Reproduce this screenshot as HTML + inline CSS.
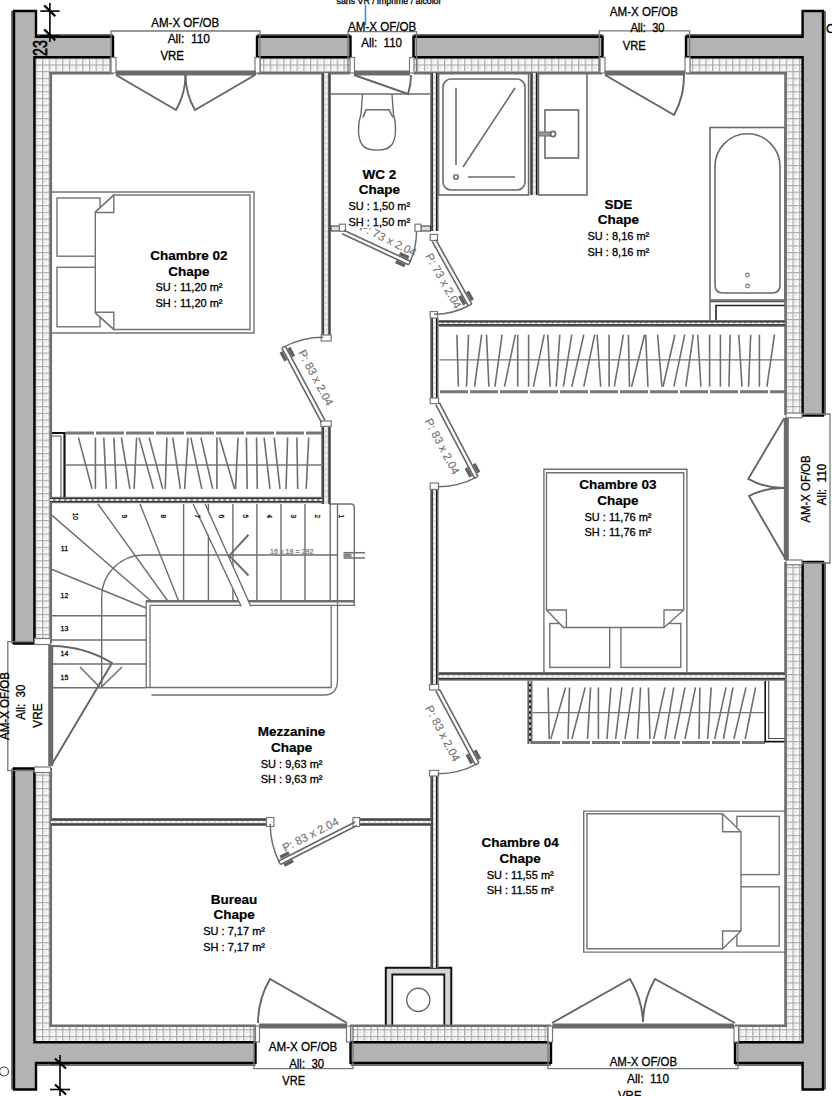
<!DOCTYPE html>
<html><head><meta charset="utf-8"><style>
html,body{margin:0;padding:0;background:#fff;overflow:hidden;}
svg{display:block;}
text{font-family:"Liberation Sans",sans-serif;}
</style></head><body>
<svg width="832" height="1096" viewBox="0 0 832 1096">
<defs>
<pattern id="ins" patternUnits="userSpaceOnUse" width="6.7" height="6.7" x="42" y="64.4">
<rect width="6.7" height="6.7" fill="#fbfbfb"/>
<path d="M3.35,1.5 V5.2 M1.5,3.35 H5.2" stroke="#e2e2e2" stroke-width="0.8"/>
<path d="M0,0.6 H6.7 M0.6,0 V6.7" stroke="#ababab" stroke-width="1.3"/>
</pattern>
</defs>
<rect width="832" height="1096" fill="#fff"/>
<line x1="331.00" y1="94.00" x2="430.00" y2="94.00" stroke="#6a6a6a" stroke-width="1.6" />
<path d="M362.5,94.5 L361,114 C357.5,124 357.5,138 362,144.5 C367,152 387,152 392,144.5 C396.5,138 396.5,124 393.5,114 L392,94.5" stroke="#6a6a6a" stroke-width="1.4" fill="none" />
<path d="M363,117.5 L366,109.7 H389 L393,117.5" stroke="#6a6a6a" stroke-width="1.6" fill="none" />
<rect x="438.60" y="73.00" width="90.00" height="122.00" fill="none" stroke="#6a6a6a" stroke-width="1.6" />
<rect x="443.00" y="79.00" width="82.00" height="111.00" fill="none" stroke="#6a6a6a" stroke-width="1.6" rx="8"/>
<line x1="456.00" y1="88.00" x2="456.00" y2="165.00" stroke="#6a6a6a" stroke-width="1.6" />
<line x1="463.00" y1="167.00" x2="515.00" y2="88.00" stroke="#6a6a6a" stroke-width="1.6" />
<circle cx="456" cy="177" r="2.2" fill="none" stroke="#6a6a6a" stroke-width="1.6"/>
<line x1="468.00" y1="177.00" x2="515.00" y2="177.00" stroke="#6a6a6a" stroke-width="1.6" />
<rect x="538.50" y="73.00" width="48.50" height="122.00" fill="none" stroke="#6a6a6a" stroke-width="1.6" />
<rect x="545.00" y="110.00" width="33.50" height="48.00" fill="none" stroke="#6a6a6a" stroke-width="1.6" />
<rect x="539.00" y="132.00" width="12.00" height="4.00" fill="#999" stroke="#6a6a6a" stroke-width="1" />
<circle cx="553" cy="134" r="2.6" fill="none" stroke="#6a6a6a" stroke-width="1.6"/>
<rect x="710.00" y="127.50" width="75.00" height="172.50" fill="none" stroke="#6a6a6a" stroke-width="1.6" />
<path d="M715,285 V166.3 A32.5,32.5 0 0 1 780,166.3 V285 Q780,293 772,293 H723 Q715,293 715,285 Z" stroke="#6a6a6a" stroke-width="1.6" fill="none" />
<circle cx="747.5" cy="275" r="1.8" fill="none" stroke="#7a7a7a" stroke-width="1.2"/>
<circle cx="747.5" cy="286" r="1.8" fill="none" stroke="#7a7a7a" stroke-width="1.2"/>
<path d="M710,320 V301.5 H785" stroke="#555" stroke-width="1.3" fill="none" />
<path d="M716,320 V305.5 H785" stroke="#222" stroke-width="1.6" fill="none" />
<path d="M385.8,1025 V967.8 H451.3 V1025" stroke="#111" stroke-width="2" fill="#d6d6d6" />
<path d="M392.3,1025 V974.5 H444.3 V1025" stroke="#111" stroke-width="1.8" fill="#fff" />
<circle cx="418.3" cy="999.9" r="11.6" fill="none" stroke="#666" stroke-width="1.4"/>
<path d="M51,192 H254 V333 H51" stroke="#727272" stroke-width="1.4" fill="none" />
<rect x="57.00" y="198.00" width="43.00" height="58.20" fill="none" stroke="#727272" stroke-width="1.4" />
<rect x="57.00" y="267.30" width="43.00" height="59.50" fill="none" stroke="#727272" stroke-width="1.4" />
<path d="M113.8,195 H250 V329.5 H113.8 L95.3,313 V212 Z" stroke="#727272" stroke-width="1.4" fill="#fff" />
<path d="M95.3,212 L113.8,195 V212.5 H95.3" stroke="#727272" stroke-width="1.4" fill="none" />
<path d="M95.3,313 L113.8,329.5 V312.3 H95.3" stroke="#727272" stroke-width="1.4" fill="none" />
<path d="M543.9,672 V469.2 H686.9 V672" stroke="#727272" stroke-width="1.4" fill="none" />
<rect x="549.80" y="623.50" width="59.90" height="43.90" fill="none" stroke="#727272" stroke-width="1.4" />
<rect x="620.90" y="623.50" width="59.90" height="43.90" fill="none" stroke="#727272" stroke-width="1.4" />
<path d="M546.5,610 V472.7 H683.7 V610 L664,627.5 H563.5 Z" stroke="#727272" stroke-width="1.4" fill="#fff" />
<path d="M546.5,610 H566.4 V627.5" stroke="#727272" stroke-width="1.4" fill="none" />
<path d="M683.7,610 H664 V627.5" stroke="#727272" stroke-width="1.4" fill="none" />
<path d="M785,811.1 H583.7 V952.1 H785" stroke="#727272" stroke-width="1.4" fill="none" />
<rect x="736.90" y="816.40" width="42.30" height="58.20" fill="none" stroke="#727272" stroke-width="1.4" />
<rect x="736.90" y="886.80" width="42.30" height="59.20" fill="none" stroke="#727272" stroke-width="1.4" />
<path d="M722.6,813.8 H586.9 V948.7 H722.6 L741,931 V831.7 Z" stroke="#727272" stroke-width="1.4" fill="#fff" />
<path d="M722.6,813.8 V831.7 H741" stroke="#727272" stroke-width="1.4" fill="none" />
<path d="M722.6,948.7 V931 H741" stroke="#727272" stroke-width="1.4" fill="none" />
<line x1="66.00" y1="433.00" x2="322.00" y2="433.00" stroke="#777" stroke-width="3.2" stroke-dasharray="28 2"/>
<path d="M50,433 H64.5 V497" stroke="#111" stroke-width="2.2" fill="none" />
<path d="M51,436 H61 V497" stroke="#555" stroke-width="1.1" fill="none" />
<line x1="78.50" y1="437.60" x2="92.00" y2="488.90" stroke="#6e6e6e" stroke-width="1.6" />
<line x1="95.40" y1="437.60" x2="95.40" y2="488.90" stroke="#6e6e6e" stroke-width="1.6" />
<line x1="103.80" y1="437.60" x2="106.30" y2="488.90" stroke="#6e6e6e" stroke-width="1.6" />
<line x1="113.90" y1="437.60" x2="116.40" y2="488.90" stroke="#6e6e6e" stroke-width="1.6" />
<line x1="121.40" y1="437.60" x2="129.90" y2="488.90" stroke="#6e6e6e" stroke-width="1.6" />
<line x1="136.60" y1="437.60" x2="134.10" y2="488.90" stroke="#6e6e6e" stroke-width="1.6" />
<line x1="139.10" y1="437.60" x2="153.40" y2="488.90" stroke="#6e6e6e" stroke-width="1.6" />
<line x1="149.20" y1="437.60" x2="162.70" y2="488.90" stroke="#6e6e6e" stroke-width="1.6" />
<line x1="166.90" y1="437.60" x2="165.20" y2="488.90" stroke="#6e6e6e" stroke-width="1.6" />
<line x1="172.80" y1="437.60" x2="180.40" y2="488.90" stroke="#6e6e6e" stroke-width="1.6" />
<line x1="188.00" y1="437.60" x2="184.60" y2="488.90" stroke="#6e6e6e" stroke-width="1.6" />
<line x1="190.80" y1="437.60" x2="201.80" y2="488.90" stroke="#6e6e6e" stroke-width="1.6" />
<line x1="200.90" y1="437.60" x2="212.70" y2="488.90" stroke="#6e6e6e" stroke-width="1.6" />
<line x1="216.90" y1="437.60" x2="216.90" y2="488.90" stroke="#6e6e6e" stroke-width="1.6" />
<line x1="219.50" y1="437.60" x2="234.60" y2="488.90" stroke="#6e6e6e" stroke-width="1.6" />
<line x1="238.00" y1="437.60" x2="235.50" y2="488.90" stroke="#6e6e6e" stroke-width="1.6" />
<line x1="246.40" y1="437.60" x2="247.20" y2="488.90" stroke="#6e6e6e" stroke-width="1.6" />
<line x1="256.50" y1="437.60" x2="257.30" y2="488.90" stroke="#6e6e6e" stroke-width="1.6" />
<line x1="264.10" y1="437.60" x2="270.00" y2="488.90" stroke="#6e6e6e" stroke-width="1.6" />
<line x1="274.20" y1="437.60" x2="280.00" y2="488.90" stroke="#6e6e6e" stroke-width="1.6" />
<line x1="287.60" y1="437.60" x2="286.00" y2="488.90" stroke="#6e6e6e" stroke-width="1.6" />
<line x1="296.90" y1="437.60" x2="297.70" y2="488.90" stroke="#6e6e6e" stroke-width="1.6" />
<line x1="308.70" y1="437.60" x2="306.20" y2="488.90" stroke="#6e6e6e" stroke-width="1.6" />
<line x1="66.00" y1="465.00" x2="321.00" y2="465.00" stroke="#747474" stroke-width="1.3" />
<line x1="440.00" y1="391.70" x2="785.00" y2="391.70" stroke="#777" stroke-width="3" stroke-dasharray="28 2"/>
<line x1="456.90" y1="334.70" x2="458.40" y2="386.70" stroke="#6e6e6e" stroke-width="1.6" />
<line x1="468.50" y1="334.70" x2="466.50" y2="386.70" stroke="#6e6e6e" stroke-width="1.6" />
<line x1="481.70" y1="334.70" x2="474.50" y2="386.70" stroke="#6e6e6e" stroke-width="1.6" />
<line x1="486.50" y1="334.70" x2="488.90" y2="386.70" stroke="#6e6e6e" stroke-width="1.6" />
<line x1="502.10" y1="334.70" x2="494.90" y2="386.70" stroke="#6e6e6e" stroke-width="1.6" />
<line x1="515.30" y1="334.70" x2="504.50" y2="386.70" stroke="#6e6e6e" stroke-width="1.6" />
<line x1="517.70" y1="334.70" x2="517.70" y2="386.70" stroke="#6e6e6e" stroke-width="1.6" />
<line x1="528.60" y1="334.70" x2="528.60" y2="386.70" stroke="#6e6e6e" stroke-width="1.6" />
<line x1="544.20" y1="334.70" x2="533.40" y2="386.70" stroke="#6e6e6e" stroke-width="1.6" />
<line x1="547.80" y1="334.70" x2="550.20" y2="386.70" stroke="#6e6e6e" stroke-width="1.6" />
<line x1="559.80" y1="334.70" x2="556.20" y2="386.70" stroke="#6e6e6e" stroke-width="1.6" />
<line x1="571.80" y1="334.70" x2="563.40" y2="386.70" stroke="#6e6e6e" stroke-width="1.6" />
<line x1="583.80" y1="334.70" x2="571.80" y2="386.70" stroke="#6e6e6e" stroke-width="1.6" />
<line x1="594.70" y1="334.70" x2="583.80" y2="386.70" stroke="#6e6e6e" stroke-width="1.6" />
<line x1="597.10" y1="334.70" x2="600.70" y2="386.70" stroke="#6e6e6e" stroke-width="1.6" />
<line x1="609.10" y1="334.70" x2="609.10" y2="386.70" stroke="#6e6e6e" stroke-width="1.6" />
<line x1="623.40" y1="334.70" x2="614.30" y2="386.70" stroke="#6e6e6e" stroke-width="1.6" />
<line x1="628.40" y1="334.70" x2="629.50" y2="386.70" stroke="#6e6e6e" stroke-width="1.6" />
<line x1="644.60" y1="334.70" x2="631.60" y2="386.70" stroke="#6e6e6e" stroke-width="1.6" />
<line x1="645.70" y1="334.70" x2="647.90" y2="386.70" stroke="#6e6e6e" stroke-width="1.6" />
<line x1="657.60" y1="334.70" x2="661.90" y2="386.70" stroke="#6e6e6e" stroke-width="1.6" />
<line x1="674.90" y1="334.70" x2="663.00" y2="386.70" stroke="#6e6e6e" stroke-width="1.6" />
<line x1="684.70" y1="334.70" x2="673.90" y2="386.70" stroke="#6e6e6e" stroke-width="1.6" />
<line x1="693.30" y1="334.70" x2="685.80" y2="386.70" stroke="#6e6e6e" stroke-width="1.6" />
<line x1="697.70" y1="334.70" x2="700.90" y2="386.70" stroke="#6e6e6e" stroke-width="1.6" />
<line x1="709.60" y1="334.70" x2="709.60" y2="386.70" stroke="#6e6e6e" stroke-width="1.6" />
<line x1="720.40" y1="334.70" x2="720.40" y2="386.70" stroke="#6e6e6e" stroke-width="1.6" />
<line x1="730.10" y1="334.70" x2="729.00" y2="386.70" stroke="#6e6e6e" stroke-width="1.6" />
<line x1="738.80" y1="334.70" x2="742.00" y2="386.70" stroke="#6e6e6e" stroke-width="1.6" />
<line x1="750.70" y1="334.70" x2="748.50" y2="386.70" stroke="#6e6e6e" stroke-width="1.6" />
<line x1="759.40" y1="334.70" x2="759.40" y2="386.70" stroke="#6e6e6e" stroke-width="1.6" />
<line x1="774.50" y1="334.70" x2="766.90" y2="386.70" stroke="#6e6e6e" stroke-width="1.6" />
<line x1="439.60" y1="359.80" x2="785.00" y2="359.80" stroke="#747474" stroke-width="1.3" />
<rect x="527.30" y="680.70" width="5.20" height="63.30" fill="#707070" />
<rect x="528.80" y="680.70" width="2.20" height="63.30" fill="#1a1a1a" />
<rect x="529.90" y="680.70" width="0.00" height="63.30" fill="#d8d8d8" />
<line x1="529.90" y1="680.70" x2="529.90" y2="744.00" stroke="#fff" stroke-width="1.4" stroke-dasharray="3 2.5"/>
<line x1="532.00" y1="742.50" x2="765.00" y2="742.50" stroke="#777" stroke-width="3" stroke-dasharray="28 2"/>
<line x1="548.10" y1="687.40" x2="549.20" y2="739.00" stroke="#6e6e6e" stroke-width="1.6" />
<line x1="565.60" y1="687.40" x2="550.80" y2="739.00" stroke="#6e6e6e" stroke-width="1.6" />
<line x1="569.50" y1="687.40" x2="568.00" y2="739.00" stroke="#6e6e6e" stroke-width="1.6" />
<line x1="585.20" y1="687.40" x2="571.90" y2="739.00" stroke="#6e6e6e" stroke-width="1.6" />
<line x1="590.60" y1="687.40" x2="587.50" y2="739.00" stroke="#6e6e6e" stroke-width="1.6" />
<line x1="598.40" y1="687.40" x2="598.40" y2="739.00" stroke="#6e6e6e" stroke-width="1.6" />
<line x1="610.90" y1="687.40" x2="607.00" y2="739.00" stroke="#6e6e6e" stroke-width="1.6" />
<line x1="621.90" y1="687.40" x2="615.60" y2="739.00" stroke="#6e6e6e" stroke-width="1.6" />
<line x1="632.80" y1="687.40" x2="625.00" y2="739.00" stroke="#6e6e6e" stroke-width="1.6" />
<line x1="640.60" y1="687.40" x2="637.50" y2="739.00" stroke="#6e6e6e" stroke-width="1.6" />
<line x1="648.40" y1="687.40" x2="650.00" y2="739.00" stroke="#6e6e6e" stroke-width="1.6" />
<line x1="665.00" y1="687.40" x2="653.70" y2="739.00" stroke="#6e6e6e" stroke-width="1.6" />
<line x1="673.70" y1="687.40" x2="665.00" y2="739.00" stroke="#6e6e6e" stroke-width="1.6" />
<line x1="685.00" y1="687.40" x2="674.60" y2="739.00" stroke="#6e6e6e" stroke-width="1.6" />
<line x1="695.50" y1="687.40" x2="685.00" y2="739.00" stroke="#6e6e6e" stroke-width="1.6" />
<line x1="699.90" y1="687.40" x2="699.00" y2="739.00" stroke="#6e6e6e" stroke-width="1.6" />
<line x1="711.20" y1="687.40" x2="707.70" y2="739.00" stroke="#6e6e6e" stroke-width="1.6" />
<line x1="726.00" y1="687.40" x2="714.70" y2="739.00" stroke="#6e6e6e" stroke-width="1.6" />
<line x1="733.00" y1="687.40" x2="723.40" y2="739.00" stroke="#6e6e6e" stroke-width="1.6" />
<line x1="746.00" y1="687.40" x2="733.90" y2="739.00" stroke="#6e6e6e" stroke-width="1.6" />
<line x1="755.60" y1="687.40" x2="745.20" y2="739.00" stroke="#6e6e6e" stroke-width="1.6" />
<line x1="533.00" y1="712.60" x2="764.30" y2="712.60" stroke="#747474" stroke-width="1.3" />
<path d="M765.2,680.7 V741.6 H785" stroke="#111" stroke-width="1.6" fill="none" />
<path d="M768.7,680.7 V738.5 H785" stroke="#444" stroke-width="1.1" fill="none" />
<path d="M329,504 H351 Q354.3,504 354.3,507.5 V606" stroke="#6e6e6e" stroke-width="1.4" fill="none" />
<line x1="183.60" y1="504.00" x2="183.60" y2="601.00" stroke="#6e6e6e" stroke-width="1.4" />
<line x1="208.40" y1="504.00" x2="208.40" y2="601.00" stroke="#6e6e6e" stroke-width="1.4" />
<line x1="232.90" y1="504.00" x2="232.90" y2="601.00" stroke="#6e6e6e" stroke-width="1.4" />
<line x1="256.90" y1="504.00" x2="256.90" y2="601.00" stroke="#6e6e6e" stroke-width="1.4" />
<line x1="281.00" y1="504.00" x2="281.00" y2="601.00" stroke="#6e6e6e" stroke-width="1.4" />
<line x1="305.00" y1="504.00" x2="305.00" y2="601.00" stroke="#6e6e6e" stroke-width="1.4" />
<line x1="330.20" y1="504.00" x2="330.20" y2="601.00" stroke="#6e6e6e" stroke-width="1.4" />
<line x1="337.50" y1="504.00" x2="337.50" y2="601.00" stroke="#6e6e6e" stroke-width="1.4" />
<line x1="52.00" y1="515.40" x2="151.00" y2="601.00" stroke="#6e6e6e" stroke-width="1.4" />
<line x1="52.00" y1="569.50" x2="146.00" y2="608.00" stroke="#6e6e6e" stroke-width="1.4" />
<line x1="98.00" y1="504.00" x2="167.80" y2="601.00" stroke="#6e6e6e" stroke-width="1.4" />
<line x1="140.00" y1="504.00" x2="178.60" y2="601.00" stroke="#6e6e6e" stroke-width="1.4" />
<line x1="146.00" y1="601.20" x2="354.30" y2="601.20" stroke="#6e6e6e" stroke-width="2.4" />
<line x1="150.00" y1="605.30" x2="354.30" y2="605.30" stroke="#6e6e6e" stroke-width="1.3" />
<polygon points="194.5,503.6 204.3,503.6 251.2,608 241.4,608" fill="#fff"/>
<line x1="193.20" y1="504.00" x2="241.30" y2="606.50" stroke="#6e6e6e" stroke-width="1.4" />
<line x1="205.20" y1="504.00" x2="250.90" y2="606.50" stroke="#6e6e6e" stroke-width="1.4" />
<path d="M101.7,688 V597 A42,42 0 0 1 143.7,555 H337.5" stroke="#6e6e6e" stroke-width="1.4" fill="none" />
<line x1="229.30" y1="555.60" x2="248.50" y2="534.70" stroke="#6e6e6e" stroke-width="2" />
<line x1="229.30" y1="555.60" x2="248.50" y2="575.50" stroke="#6e6e6e" stroke-width="2" />
<text x="291.80" y="554.00" font-size="8" text-anchor="middle" fill="#888" stroke="#888" stroke-width="0.3" textLength="43.4" lengthAdjust="spacingAndGlyphs" >16 x 18 = 292</text>
<line x1="343.50" y1="552.70" x2="365.00" y2="552.70" stroke="#6e6e6e" stroke-width="1.5" />
<line x1="343.50" y1="558.00" x2="365.00" y2="558.00" stroke="#6e6e6e" stroke-width="1.5" />
<rect x="343.50" y="553.50" width="8.00" height="4.00" fill="#888" />
<line x1="146.20" y1="601.00" x2="146.20" y2="688.00" stroke="#6e6e6e" stroke-width="1.3" />
<line x1="150.00" y1="605.00" x2="150.00" y2="688.00" stroke="#6e6e6e" stroke-width="1.3" />
<line x1="146.00" y1="687.50" x2="331.20" y2="687.50" stroke="#6e6e6e" stroke-width="1.3" />
<line x1="331.20" y1="605.30" x2="331.20" y2="687.50" stroke="#6e6e6e" stroke-width="1.3" />
<path d="M337.5,601 V680 Q337.5,695 324,695 H151.5" stroke="#6e6e6e" stroke-width="1.3" fill="none" />
<line x1="52.00" y1="615.80" x2="146.00" y2="615.80" stroke="#6e6e6e" stroke-width="1.4" />
<line x1="52.00" y1="640.00" x2="146.00" y2="640.00" stroke="#6e6e6e" stroke-width="1.4" />
<line x1="52.00" y1="664.00" x2="146.00" y2="664.00" stroke="#6e6e6e" stroke-width="1.4" />
<line x1="52.00" y1="687.80" x2="146.00" y2="687.80" stroke="#6e6e6e" stroke-width="1.4" />
<text x="64.50" y="551.00" font-size="7" text-anchor="middle" fill="#111" stroke="#111" stroke-width="0.3" >11</text>
<text x="64.50" y="598.00" font-size="7" text-anchor="middle" fill="#111" stroke="#111" stroke-width="0.3" >12</text>
<text x="64.50" y="631.00" font-size="7" text-anchor="middle" fill="#111" stroke="#111" stroke-width="0.3" >13</text>
<text x="64.50" y="655.50" font-size="7" text-anchor="middle" fill="#111" stroke="#111" stroke-width="0.3" >14</text>
<text x="64.50" y="679.50" font-size="7" text-anchor="middle" fill="#111" stroke="#111" stroke-width="0.3" >15</text>
<text x="75.00" y="516.30" font-size="6.5" text-anchor="middle" fill="#111" stroke="#111" stroke-width="0.3" transform="rotate(90 75 516.3)" dominant-baseline="middle">10</text>
<text x="123.50" y="516.30" font-size="6.5" text-anchor="middle" fill="#111" stroke="#111" stroke-width="0.3" transform="rotate(90 123.5 516.3)" dominant-baseline="middle">9</text>
<text x="163.00" y="516.30" font-size="6.5" text-anchor="middle" fill="#111" stroke="#111" stroke-width="0.3" transform="rotate(90 163 516.3)" dominant-baseline="middle">8</text>
<text x="196.60" y="516.30" font-size="6.5" text-anchor="middle" fill="#111" stroke="#111" stroke-width="0.3" transform="rotate(90 196.6 516.3)" dominant-baseline="middle">7</text>
<text x="220.90" y="516.30" font-size="6.5" text-anchor="middle" fill="#111" stroke="#111" stroke-width="0.3" transform="rotate(90 220.9 516.3)" dominant-baseline="middle">6</text>
<text x="244.60" y="516.30" font-size="6.5" text-anchor="middle" fill="#111" stroke="#111" stroke-width="0.3" transform="rotate(90 244.6 516.3)" dominant-baseline="middle">5</text>
<text x="268.50" y="516.30" font-size="6.5" text-anchor="middle" fill="#111" stroke="#111" stroke-width="0.3" transform="rotate(90 268.5 516.3)" dominant-baseline="middle">4</text>
<text x="292.50" y="516.30" font-size="6.5" text-anchor="middle" fill="#111" stroke="#111" stroke-width="0.3" transform="rotate(90 292.5 516.3)" dominant-baseline="middle">3</text>
<text x="317.00" y="516.30" font-size="6.5" text-anchor="middle" fill="#111" stroke="#111" stroke-width="0.3" transform="rotate(90 317 516.3)" dominant-baseline="middle">2</text>
<text x="340.60" y="516.30" font-size="6.5" text-anchor="middle" fill="#111" stroke="#111" stroke-width="0.3" transform="rotate(90 340.6 516.3)" dominant-baseline="middle">1</text>
<line x1="80.00" y1="667.00" x2="100.50" y2="688.00" stroke="#6e6e6e" stroke-width="1.5" />
<line x1="122.00" y1="667.00" x2="100.50" y2="688.00" stroke="#6e6e6e" stroke-width="1.5" />
<rect x="35.00" y="57.50" width="78.00" height="15.00" fill="url(#ins)" />
<rect x="257.00" y="57.50" width="93.50" height="15.00" fill="url(#ins)" />
<rect x="414.00" y="57.50" width="188.00" height="15.00" fill="url(#ins)" />
<rect x="686.00" y="57.50" width="116.00" height="15.00" fill="url(#ins)" />
<rect x="35.00" y="57.50" width="15.00" height="586.00" fill="url(#ins)" />
<rect x="35.00" y="768.00" width="15.00" height="274.00" fill="url(#ins)" />
<rect x="786.00" y="57.50" width="16.00" height="358.00" fill="url(#ins)" />
<rect x="786.00" y="562.00" width="16.00" height="480.00" fill="url(#ins)" />
<rect x="35.00" y="1026.00" width="221.00" height="16.00" fill="url(#ins)" />
<rect x="350.00" y="1026.00" width="201.00" height="16.00" fill="url(#ins)" />
<rect x="735.00" y="1026.00" width="67.00" height="16.00" fill="url(#ins)" />
<line x1="50.80" y1="72.00" x2="50.80" y2="643.00" stroke="#6e6e6e" stroke-width="2.6" />
<line x1="50.80" y1="768.00" x2="50.80" y2="1027.00" stroke="#6e6e6e" stroke-width="2.6" />
<line x1="49.50" y1="73.20" x2="113.00" y2="73.20" stroke="#6e6e6e" stroke-width="2.6" />
<line x1="257.00" y1="73.20" x2="350.00" y2="73.20" stroke="#6e6e6e" stroke-width="2.6" />
<line x1="414.00" y1="73.20" x2="602.00" y2="73.20" stroke="#6e6e6e" stroke-width="2.6" />
<line x1="686.00" y1="73.20" x2="787.00" y2="73.20" stroke="#6e6e6e" stroke-width="2.6" />
<line x1="785.50" y1="72.00" x2="785.50" y2="415.00" stroke="#6e6e6e" stroke-width="2.6" />
<line x1="785.50" y1="562.00" x2="785.50" y2="1027.00" stroke="#6e6e6e" stroke-width="2.6" />
<line x1="49.50" y1="1025.80" x2="256.00" y2="1025.80" stroke="#6e6e6e" stroke-width="2.6" />
<line x1="350.00" y1="1025.80" x2="551.00" y2="1025.80" stroke="#6e6e6e" stroke-width="2.6" />
<line x1="735.00" y1="1025.80" x2="787.00" y2="1025.80" stroke="#6e6e6e" stroke-width="2.6" />
<line x1="12.00" y1="11.00" x2="12.00" y2="643.50" stroke="#707070" stroke-width="2" />
<line x1="12.00" y1="768.50" x2="12.00" y2="1089.50" stroke="#707070" stroke-width="2" />
<line x1="36.00" y1="35.00" x2="113.00" y2="35.00" stroke="#707070" stroke-width="2" />
<line x1="257.00" y1="35.00" x2="350.50" y2="35.00" stroke="#707070" stroke-width="2" />
<line x1="413.50" y1="35.00" x2="602.50" y2="35.00" stroke="#707070" stroke-width="2" />
<line x1="686.00" y1="35.00" x2="802.60" y2="35.00" stroke="#707070" stroke-width="2" />
<line x1="825.00" y1="11.00" x2="825.00" y2="415.50" stroke="#707070" stroke-width="2" />
<line x1="825.00" y1="562.00" x2="825.00" y2="1089.50" stroke="#707070" stroke-width="2" />
<line x1="36.00" y1="1064.90" x2="255.50" y2="1064.90" stroke="#707070" stroke-width="2" />
<line x1="350.50" y1="1064.90" x2="551.00" y2="1064.90" stroke="#707070" stroke-width="2" />
<line x1="735.00" y1="1064.90" x2="802.60" y2="1064.90" stroke="#707070" stroke-width="2" />
<polygon points="14,11 36,11 36,36.8 113,36.8 113,57.25 34.4,57.25 34.4,643.5 14,643.5" fill="#b3b3b3" stroke="#000" stroke-width="2.4" stroke-linejoin="miter"/>
<polygon points="257,36.8 350.5,36.8 350.5,57.25 257,57.25" fill="#b3b3b3" stroke="#000" stroke-width="2.4" stroke-linejoin="miter"/>
<polygon points="413.5,36.8 602.5,36.8 602.5,57.25 413.5,57.25" fill="#b3b3b3" stroke="#000" stroke-width="2.4" stroke-linejoin="miter"/>
<polygon points="686,36.8 802.6,36.8 802.6,11 823,11 823,415.5 802.6,415.5 802.6,57.25 686,57.25" fill="#b3b3b3" stroke="#000" stroke-width="2.4" stroke-linejoin="miter"/>
<polygon points="802.6,562 823,562 823,1089.5 802.6,1089.5 802.6,1062.9 735,1062.9 735,1042.2 802.6,1042.2" fill="#b3b3b3" stroke="#000" stroke-width="2.4" stroke-linejoin="miter"/>
<polygon points="14,768.5 34.4,768.5 34.4,1042.2 255.5,1042.2 255.5,1062.9 36,1062.9 36,1089.5 14,1089.5" fill="#b3b3b3" stroke="#000" stroke-width="2.4" stroke-linejoin="miter"/>
<polygon points="350.5,1042.2 551,1042.2 551,1062.9 350.5,1062.9" fill="#b3b3b3" stroke="#000" stroke-width="2.4" stroke-linejoin="miter"/>
<path d="M111,73 V31 H260 V73" stroke="#777" stroke-width="1.3" fill="none" />
<rect x="111.00" y="57.50" width="5.00" height="15.50" fill="#fff" stroke="#777" stroke-width="1.2" />
<rect x="255.00" y="57.50" width="5.00" height="15.50" fill="#fff" stroke="#777" stroke-width="1.2" />
<line x1="116.00" y1="73.00" x2="256.00" y2="73.00" stroke="#6a6a6a" stroke-width="5" />
<path d="M116,75 L176,110 A70,70 0 0 0 185.5,75" stroke="#656565" stroke-width="1.9" fill="none" />
<path d="M255,75 L195,110 A70,70 0 0 1 185.5,75" stroke="#656565" stroke-width="1.9" fill="none" />
<text x="185.30" y="26.50" font-size="12.5" text-anchor="middle" fill="#000" stroke="#000" stroke-width="0.3" textLength="68" lengthAdjust="spacingAndGlyphs" >AM-X OF/OB</text>
<text x="188.80" y="42.70" font-size="12.5" text-anchor="middle" fill="#000" stroke="#000" stroke-width="0.3" textLength="42.3" lengthAdjust="spacingAndGlyphs" >All:  110</text>
<text x="160.40" y="59.60" font-size="12.5" text-anchor="start" fill="#000" stroke="#000" stroke-width="0.3" textLength="23.6" lengthAdjust="spacingAndGlyphs" >VRE</text>
<path d="M348,73 V31.7 H416.5 V73" stroke="#777" stroke-width="1.3" fill="none" />
<rect x="350.00" y="57.50" width="4.50" height="15.50" fill="#fff" stroke="#777" stroke-width="1.2" />
<rect x="409.50" y="57.50" width="4.50" height="15.50" fill="#fff" stroke="#777" stroke-width="1.2" />
<line x1="354.00" y1="73.00" x2="410.00" y2="73.00" stroke="#6a6a6a" stroke-width="5" />
<path d="M354,75 L408,94 A60,60 0 0 0 411,75" stroke="#656565" stroke-width="1.9" fill="none" />
<line x1="365.50" y1="5.00" x2="365.50" y2="25.00" stroke="#3b8ee0" stroke-width="1.6" />
<text x="382.20" y="30.80" font-size="12.5" text-anchor="middle" fill="#000" stroke="#000" stroke-width="0.3" textLength="68.3" lengthAdjust="spacingAndGlyphs" >AM-X OF/OB</text>
<text x="381.60" y="47.10" font-size="12.5" text-anchor="middle" fill="#000" stroke="#000" stroke-width="0.3" textLength="40.8" lengthAdjust="spacingAndGlyphs" >All:  110</text>
<text x="389.00" y="3.60" font-size="8.5" text-anchor="middle" fill="#000" stroke="#000" stroke-width="0.3" textLength="104.8" lengthAdjust="spacingAndGlyphs" >sans VR / imprimé / alcolor</text>
<path d="M599.2,73 V30.8 H689.6 V73" stroke="#777" stroke-width="1.3" fill="none" />
<rect x="600.00" y="57.50" width="5.00" height="15.50" fill="#fff" stroke="#777" stroke-width="1.2" />
<rect x="685.00" y="57.50" width="5.00" height="15.50" fill="#fff" stroke="#777" stroke-width="1.2" />
<line x1="605.00" y1="73.00" x2="685.00" y2="73.00" stroke="#6a6a6a" stroke-width="5" />
<path d="M605,75 L674,115 A80,80 0 0 0 684,75" stroke="#656565" stroke-width="1.9" fill="none" />
<text x="643.90" y="15.80" font-size="12.5" text-anchor="middle" fill="#000" stroke="#000" stroke-width="0.3" textLength="68.2" lengthAdjust="spacingAndGlyphs" >AM-X OF/OB</text>
<text x="647.50" y="32.30" font-size="12.5" text-anchor="middle" fill="#000" stroke="#000" stroke-width="0.3" textLength="34.2" lengthAdjust="spacingAndGlyphs" >All:  30</text>
<text x="622.70" y="49.60" font-size="12.5" text-anchor="start" fill="#000" stroke="#000" stroke-width="0.3" textLength="23.1" lengthAdjust="spacingAndGlyphs" >VRE</text>
<text x="826.00" y="33.00" font-size="12.5" text-anchor="start" fill="#000" stroke="#000" stroke-width="0.3" >C</text>
<path d="M786,414 H830 V563 H786" stroke="#777" stroke-width="1.3" fill="none" />
<rect x="786.00" y="413.00" width="16.00" height="4.80" fill="#fff" stroke="#777" stroke-width="1.2" />
<rect x="786.00" y="560.00" width="16.00" height="4.80" fill="#fff" stroke="#777" stroke-width="1.2" />
<line x1="786.30" y1="418.00" x2="786.30" y2="560.00" stroke="#6a6a6a" stroke-width="5" />
<path d="M784.4,418 L748.3,478.8 A70,70 0 0 0 784,488" stroke="#656565" stroke-width="1.9" fill="none" />
<path d="M784.4,557 L749,496 A70,70 0 0 1 784,488" stroke="#656565" stroke-width="1.9" fill="none" />
<text x="809.60" y="489.00" font-size="12.5" text-anchor="middle" fill="#000" stroke="#000" stroke-width="0.3" textLength="67" lengthAdjust="spacingAndGlyphs" transform="rotate(-90 809.6 489)">AM-X OF/OB</text>
<text x="826.40" y="484.50" font-size="12.5" text-anchor="middle" fill="#000" stroke="#000" stroke-width="0.3" textLength="41.5" lengthAdjust="spacingAndGlyphs" transform="rotate(-90 826.4 484.5)">All:  110</text>
<path d="M50,641.7 H7.8 V770.6 H50" stroke="#777" stroke-width="1.3" fill="none" />
<rect x="34.50" y="638.50" width="16.00" height="6.00" fill="#fff" stroke="#777" stroke-width="1.2" />
<rect x="34.50" y="767.00" width="16.00" height="5.50" fill="#fff" stroke="#777" stroke-width="1.2" />
<line x1="50.70" y1="645.00" x2="50.70" y2="766.00" stroke="#6a6a6a" stroke-width="5" />
<path d="M52,764 L112,663 A118,118 0 0 0 52,646" stroke="#656565" stroke-width="1.9" fill="none" />
<text x="8.80" y="706.00" font-size="12.5" text-anchor="middle" fill="#000" stroke="#000" stroke-width="0.3" textLength="68" lengthAdjust="spacingAndGlyphs" transform="rotate(-90 8.8 706)">AM-X OF/OB</text>
<text x="25.20" y="702.20" font-size="12.5" text-anchor="middle" fill="#000" stroke="#000" stroke-width="0.3" textLength="35.1" lengthAdjust="spacingAndGlyphs" transform="rotate(-90 25.2 702.2)">All:  30</text>
<text x="42.30" y="715.50" font-size="12.5" text-anchor="middle" fill="#000" stroke="#000" stroke-width="0.3" textLength="24.3" lengthAdjust="spacingAndGlyphs" transform="rotate(-90 42.3 715.5)">VRE</text>
<path d="M254,1026 V1068.7 H353 V1026" stroke="#777" stroke-width="1.3" fill="none" />
<rect x="255.50" y="1026.00" width="4.00" height="16.00" fill="#fff" stroke="#777" stroke-width="1.2" />
<rect x="346.50" y="1026.00" width="4.00" height="16.00" fill="#fff" stroke="#777" stroke-width="1.2" />
<line x1="259.00" y1="1026.00" x2="347.00" y2="1026.00" stroke="#6a6a6a" stroke-width="5" />
<path d="M347,1023 L270,979 A88,88 0 0 0 258,1023" stroke="#656565" stroke-width="1.9" fill="none" />
<text x="303.00" y="1051.30" font-size="12.5" text-anchor="middle" fill="#000" stroke="#000" stroke-width="0.3" textLength="68.5" lengthAdjust="spacingAndGlyphs" >AM-X OF/OB</text>
<text x="306.70" y="1067.80" font-size="12.5" text-anchor="middle" fill="#000" stroke="#000" stroke-width="0.3" textLength="35" lengthAdjust="spacingAndGlyphs" >All:  30</text>
<text x="282.30" y="1084.50" font-size="12.5" text-anchor="start" fill="#000" stroke="#000" stroke-width="0.3" textLength="22.7" lengthAdjust="spacingAndGlyphs" >VRE</text>
<path d="M548,1026 V1068.7 H738 V1026" stroke="#777" stroke-width="1.3" fill="none" />
<rect x="548.00" y="1026.00" width="4.50" height="16.00" fill="#fff" stroke="#777" stroke-width="1.2" />
<rect x="734.00" y="1026.00" width="4.50" height="16.00" fill="#fff" stroke="#777" stroke-width="1.2" />
<line x1="552.50" y1="1026.00" x2="734.00" y2="1026.00" stroke="#6a6a6a" stroke-width="5" />
<path d="M552,1023 L630,979 A90,90 0 0 1 643,1022" stroke="#656565" stroke-width="1.9" fill="none" />
<path d="M735,1023 L655,979 A90,90 0 0 0 643,1022" stroke="#656565" stroke-width="1.9" fill="none" />
<text x="643.40" y="1065.80" font-size="12.5" text-anchor="middle" fill="#000" stroke="#000" stroke-width="0.3" textLength="67.3" lengthAdjust="spacingAndGlyphs" >AM-X OF/OB</text>
<text x="648.00" y="1083.20" font-size="12.5" text-anchor="middle" fill="#000" stroke="#000" stroke-width="0.3" textLength="42" lengthAdjust="spacingAndGlyphs" >All:  110</text>
<text x="618.00" y="1100.00" font-size="12.5" text-anchor="start" fill="#000" stroke="#000" stroke-width="0.3" textLength="23.5" lengthAdjust="spacingAndGlyphs" >VRE</text>
<rect x="321.20" y="73.00" width="9.80" height="262.00" fill="#707070" />
<rect x="322.70" y="73.00" width="6.80" height="262.00" fill="#1a1a1a" />
<rect x="323.80" y="73.00" width="4.60" height="262.00" fill="#d8d8d8" />
<line x1="326.10" y1="73.00" x2="326.10" y2="335.00" stroke="#fff" stroke-width="1.4" stroke-dasharray="3 2.5"/>
<rect x="321.20" y="426.40" width="9.80" height="77.60" fill="#707070" />
<rect x="322.70" y="426.40" width="6.80" height="77.60" fill="#1a1a1a" />
<rect x="323.80" y="426.40" width="4.60" height="77.60" fill="#d8d8d8" />
<line x1="326.10" y1="426.40" x2="326.10" y2="504.00" stroke="#fff" stroke-width="1.4" stroke-dasharray="3 2.5"/>
<rect x="321.20" y="335.00" width="10.00" height="6.00" fill="#fff" stroke="#777" stroke-width="1.2" />
<rect x="320.80" y="421.00" width="10.40" height="5.40" fill="#fff" stroke="#777" stroke-width="1.2" />
<rect x="430.20" y="73.00" width="8.40" height="158.00" fill="#707070" />
<rect x="431.70" y="73.00" width="5.40" height="158.00" fill="#1a1a1a" />
<rect x="432.80" y="73.00" width="3.20" height="158.00" fill="#d8d8d8" />
<line x1="434.40" y1="73.00" x2="434.40" y2="231.00" stroke="#fff" stroke-width="1.4" stroke-dasharray="3 2.5"/>
<rect x="430.20" y="318.00" width="8.40" height="80.00" fill="#707070" />
<rect x="431.70" y="318.00" width="5.40" height="80.00" fill="#1a1a1a" />
<rect x="432.80" y="318.00" width="3.20" height="80.00" fill="#d8d8d8" />
<line x1="434.40" y1="318.00" x2="434.40" y2="398.00" stroke="#fff" stroke-width="1.4" stroke-dasharray="3 2.5"/>
<rect x="430.20" y="489.40" width="8.40" height="195.10" fill="#707070" />
<rect x="431.70" y="489.40" width="5.40" height="195.10" fill="#1a1a1a" />
<rect x="432.80" y="489.40" width="3.20" height="195.10" fill="#d8d8d8" />
<line x1="434.40" y1="489.40" x2="434.40" y2="684.50" stroke="#fff" stroke-width="1.4" stroke-dasharray="3 2.5"/>
<rect x="430.20" y="776.00" width="8.40" height="192.00" fill="#707070" />
<rect x="431.70" y="776.00" width="5.40" height="192.00" fill="#1a1a1a" />
<rect x="432.80" y="776.00" width="3.20" height="192.00" fill="#d8d8d8" />
<line x1="434.40" y1="776.00" x2="434.40" y2="968.00" stroke="#fff" stroke-width="1.4" stroke-dasharray="3 2.5"/>
<rect x="430.20" y="234.40" width="7.30" height="6.10" fill="#fff" stroke="#777" stroke-width="1.2" />
<rect x="430.20" y="311.50" width="7.30" height="6.50" fill="#fff" stroke="#777" stroke-width="1.2" />
<rect x="430.20" y="398.00" width="8.40" height="5.60" fill="#fff" stroke="#777" stroke-width="1.2" />
<rect x="430.20" y="483.00" width="8.40" height="6.40" fill="#fff" stroke="#777" stroke-width="1.2" />
<rect x="429.50" y="684.50" width="9.10" height="5.50" fill="#fff" stroke="#777" stroke-width="1.2" />
<rect x="429.50" y="770.40" width="9.10" height="5.60" fill="#fff" stroke="#777" stroke-width="1.2" />
<rect x="530.00" y="73.00" width="8.50" height="122.00" fill="#707070" />
<rect x="531.50" y="73.00" width="5.50" height="122.00" fill="#1a1a1a" />
<rect x="532.60" y="73.00" width="3.30" height="122.00" fill="#d8d8d8" />
<line x1="534.25" y1="73.00" x2="534.25" y2="195.00" stroke="#fff" stroke-width="1.4" stroke-dasharray="3 2.5"/>
<rect x="438.60" y="320.00" width="346.40" height="6.80" fill="#707070" />
<rect x="438.60" y="321.50" width="346.40" height="3.80" fill="#1a1a1a" />
<rect x="438.60" y="322.60" width="346.40" height="1.60" fill="#d8d8d8" />
<line x1="438.60" y1="323.40" x2="785.00" y2="323.40" stroke="#fff" stroke-width="1.4" stroke-dasharray="3 2.5"/>
<rect x="438.60" y="672.00" width="346.40" height="8.70" fill="#707070" />
<rect x="438.60" y="673.50" width="346.40" height="5.70" fill="#1a1a1a" />
<rect x="438.60" y="674.60" width="346.40" height="3.50" fill="#d8d8d8" />
<line x1="438.60" y1="676.35" x2="785.00" y2="676.35" stroke="#fff" stroke-width="1.4" stroke-dasharray="3 2.5"/>
<rect x="51.00" y="818.00" width="215.50" height="8.00" fill="#707070" />
<rect x="51.00" y="819.50" width="215.50" height="5.00" fill="#1a1a1a" />
<rect x="51.00" y="820.60" width="215.50" height="2.80" fill="#d8d8d8" />
<line x1="51.00" y1="822.00" x2="266.50" y2="822.00" stroke="#fff" stroke-width="1.4" stroke-dasharray="3 2.5"/>
<rect x="359.50" y="818.00" width="71.50" height="8.00" fill="#707070" />
<rect x="359.50" y="819.50" width="71.50" height="5.00" fill="#1a1a1a" />
<rect x="359.50" y="820.60" width="71.50" height="2.80" fill="#d8d8d8" />
<line x1="359.50" y1="822.00" x2="431.00" y2="822.00" stroke="#fff" stroke-width="1.4" stroke-dasharray="3 2.5"/>
<rect x="266.50" y="817.50" width="7.30" height="9.00" fill="#fff" stroke="#777" stroke-width="1.2" />
<rect x="353.00" y="817.50" width="6.60" height="9.00" fill="#fff" stroke="#777" stroke-width="1.2" />
<rect x="50.00" y="496.80" width="272.00" height="6.40" fill="#707070" />
<rect x="50.00" y="498.30" width="272.00" height="3.40" fill="#1a1a1a" />
<rect x="50.00" y="499.40" width="272.00" height="1.20" fill="#d8d8d8" />
<line x1="50.00" y1="500.00" x2="322.00" y2="500.00" stroke="#fff" stroke-width="1.4" stroke-dasharray="3 2.5"/>
<rect x="331.00" y="226.00" width="9.00" height="5.00" fill="#ddd" stroke="#333" stroke-width="1" />
<rect x="421.00" y="226.00" width="9.50" height="5.00" fill="#ddd" stroke="#333" stroke-width="1" />
<rect x="339.40" y="224.20" width="6.10" height="7.10" fill="#fff" stroke="#777" stroke-width="1.2" />
<rect x="415.00" y="224.20" width="6.00" height="7.10" fill="#fff" stroke="#777" stroke-width="1.2" />
<line x1="321.44" y1="422.34" x2="281.84" y2="348.04" stroke="#666" stroke-width="1.6" />
<line x1="324.96" y1="420.46" x2="285.36" y2="346.16" stroke="#666" stroke-width="1.6" />
<line x1="285.36" y1="346.16" x2="281.84" y2="348.04" stroke="#6a6a6a" stroke-width="1.3" />
<path d="M283.60,347.10 A84.19,84.19 0 0 1 323.20,337.20" stroke="#6e6e6e" stroke-width="1.5" fill="none" />
<line x1="281.04" y1="351.86" x2="285.74" y2="360.69" stroke="#606060" stroke-width="3.4" />
<line x1="288.98" y1="347.63" x2="293.69" y2="356.46" stroke="#606060" stroke-width="3.4" />
<text x="298.00" y="352.50" font-size="11.5" text-anchor="start" fill="#707070" stroke="#707070" stroke-width="0.1" transform="rotate(62.00 298.00 352.50)">P: 83 x 2.04</text>
<line x1="439.37" y1="402.67" x2="477.97" y2="476.37" stroke="#666" stroke-width="1.6" />
<line x1="435.83" y1="404.53" x2="474.43" y2="478.23" stroke="#666" stroke-width="1.6" />
<line x1="474.43" y1="478.23" x2="477.97" y2="476.37" stroke="#6a6a6a" stroke-width="1.3" />
<path d="M476.20,477.30 A83.20,83.20 0 0 1 437.60,486.80" stroke="#6e6e6e" stroke-width="1.5" fill="none" />
<line x1="478.79" y1="472.55" x2="474.15" y2="463.70" stroke="#606060" stroke-width="3.4" />
<line x1="470.82" y1="476.73" x2="466.18" y2="467.87" stroke="#606060" stroke-width="3.4" />
<text x="424.50" y="421.00" font-size="11.5" text-anchor="start" fill="#707070" stroke="#707070" stroke-width="0.1" transform="rotate(62.40 424.50 421.00)">P: 83 x 2.04</text>
<line x1="439.36" y1="689.06" x2="478.96" y2="762.96" stroke="#666" stroke-width="1.6" />
<line x1="435.84" y1="690.94" x2="475.44" y2="764.84" stroke="#666" stroke-width="1.6" />
<line x1="475.44" y1="764.84" x2="478.96" y2="762.96" stroke="#6a6a6a" stroke-width="1.3" />
<path d="M477.20,763.90 A83.84,83.84 0 0 1 437.60,773.80" stroke="#6e6e6e" stroke-width="1.5" fill="none" />
<line x1="479.75" y1="759.13" x2="475.03" y2="750.32" stroke="#606060" stroke-width="3.4" />
<line x1="471.82" y1="763.38" x2="467.09" y2="754.57" stroke="#606060" stroke-width="3.4" />
<text x="425.00" y="708.00" font-size="11.5" text-anchor="start" fill="#707070" stroke="#707070" stroke-width="0.1" transform="rotate(62.40 425.00 708.00)">P: 83 x 2.04</text>
<line x1="343.85" y1="230.19" x2="410.35" y2="261.19" stroke="#666" stroke-width="1.6" />
<line x1="342.15" y1="233.81" x2="408.65" y2="264.81" stroke="#666" stroke-width="1.6" />
<line x1="408.65" y1="264.81" x2="410.35" y2="261.19" stroke="#6a6a6a" stroke-width="1.3" />
<path d="M409.50,263.00 A73.37,73.37 0 0 0 416.50,232.00" stroke="#6e6e6e" stroke-width="1.5" fill="none" />
<line x1="408.68" y1="257.65" x2="399.62" y2="253.43" stroke="#606060" stroke-width="3.4" />
<line x1="404.88" y1="265.81" x2="395.82" y2="261.59" stroke="#606060" stroke-width="3.4" />
<text x="359.00" y="229.50" font-size="11.5" text-anchor="start" fill="#707070" stroke="#707070" stroke-width="0.1" transform="rotate(26.50 359.00 229.50)">P: 73 x 2.04</text>
<line x1="435.75" y1="239.53" x2="471.75" y2="304.03" stroke="#666" stroke-width="1.6" />
<line x1="432.25" y1="241.47" x2="468.25" y2="305.97" stroke="#666" stroke-width="1.6" />
<line x1="468.25" y1="305.97" x2="471.75" y2="304.03" stroke="#6a6a6a" stroke-width="1.3" />
<path d="M470.00,305.00 A73.87,73.87 0 0 1 434.00,314.30" stroke="#6e6e6e" stroke-width="1.5" fill="none" />
<line x1="472.47" y1="300.19" x2="467.59" y2="291.46" stroke="#606060" stroke-width="3.4" />
<line x1="464.61" y1="304.57" x2="459.73" y2="295.84" stroke="#606060" stroke-width="3.4" />
<text x="425.00" y="256.00" font-size="11.5" text-anchor="start" fill="#707070" stroke="#707070" stroke-width="0.1" transform="rotate(60.80 425.00 256.00)">P: 73 x 2.04</text>
<line x1="356.91" y1="825.58" x2="280.41" y2="864.48" stroke="#666" stroke-width="1.6" />
<line x1="355.09" y1="822.02" x2="278.59" y2="860.92" stroke="#666" stroke-width="1.6" />
<line x1="278.59" y1="860.92" x2="280.41" y2="864.48" stroke="#6a6a6a" stroke-width="1.3" />
<path d="M279.50,862.70 A85.82,85.82 0 0 1 270.20,823.80" stroke="#6e6e6e" stroke-width="1.5" fill="none" />
<line x1="284.21" y1="865.35" x2="293.13" y2="860.82" stroke="#606060" stroke-width="3.4" />
<line x1="280.13" y1="857.33" x2="289.05" y2="852.80" stroke="#606060" stroke-width="3.4" />
<text x="285.00" y="852.00" font-size="11.5" text-anchor="start" fill="#707070" stroke="#707070" stroke-width="0.1" transform="rotate(-27.00 285.00 852.00)">P: 83 x 2.04</text>
<line x1="49.90" y1="3.00" x2="49.90" y2="42.00" stroke="#000" stroke-width="1.6" />
<line x1="40.30" y1="11.10" x2="59.60" y2="11.10" stroke="#000" stroke-width="1.6" />
<line x1="40.30" y1="36.00" x2="59.60" y2="36.00" stroke="#000" stroke-width="1.6" />
<line x1="44.20" y1="5.40" x2="55.30" y2="16.20" stroke="#000" stroke-width="2.2" />
<line x1="44.20" y1="29.40" x2="55.30" y2="40.40" stroke="#000" stroke-width="2.2" />
<text x="46.60" y="56.00" font-size="21" text-anchor="start" fill="#000" stroke="#000" stroke-width="0.6" textLength="16" lengthAdjust="spacingAndGlyphs" transform="rotate(-90 46.6 56)">23</text>
<line x1="60.00" y1="1055.00" x2="60.00" y2="1096.00" stroke="#000" stroke-width="1.6" />
<line x1="50.00" y1="1063.50" x2="70.00" y2="1063.50" stroke="#000" stroke-width="1.6" />
<line x1="50.00" y1="1089.50" x2="70.00" y2="1089.50" stroke="#000" stroke-width="1.6" />
<line x1="55.00" y1="1058.50" x2="66.00" y2="1068.50" stroke="#000" stroke-width="2.2" />
<line x1="55.00" y1="1084.50" x2="66.00" y2="1094.50" stroke="#000" stroke-width="2.2" />
<circle cx="4" cy="1071.5" r="4.5" fill="none" stroke="#444" stroke-width="1.2"/>
<rect x="148.36" y="249.27" width="81.28" height="13.50" fill="#fff" />
<rect x="166.37" y="264.97" width="45.26" height="13.50" fill="#fff" />
<rect x="153.48" y="282.52" width="71.04" height="11.00" fill="#fff" />
<rect x="153.48" y="298.22" width="71.04" height="11.00" fill="#fff" />
<text x="189.00" y="259.80" font-size="13.5" font-weight="bold" text-anchor="middle" fill="#000" stroke="#000" stroke-width="0.2" >Chambre 02</text>
<text x="189.00" y="275.50" font-size="13.5" font-weight="bold" text-anchor="middle" fill="#000" stroke="#000" stroke-width="0.2" >Chape</text>
<text x="189.00" y="291.10" font-size="11" text-anchor="middle" fill="#000" stroke="#000" stroke-width="0.3" >SU : 11,20 m²</text>
<text x="189.00" y="306.80" font-size="11" text-anchor="middle" fill="#000" stroke="#000" stroke-width="0.3" >SH : 11,20 m²</text>
<rect x="360.43" y="168.07" width="37.75" height="13.50" fill="#fff" />
<rect x="356.67" y="183.77" width="45.26" height="13.50" fill="#fff" />
<rect x="346.43" y="201.32" width="65.74" height="11.00" fill="#fff" />
<rect x="346.43" y="217.02" width="65.74" height="11.00" fill="#fff" />
<text x="379.30" y="178.60" font-size="13.5" font-weight="bold" text-anchor="middle" fill="#000" stroke="#000" stroke-width="0.2" >WC 2</text>
<text x="379.30" y="194.30" font-size="13.5" font-weight="bold" text-anchor="middle" fill="#000" stroke="#000" stroke-width="0.2" >Chape</text>
<text x="379.30" y="209.90" font-size="11" text-anchor="middle" fill="#000" stroke="#000" stroke-width="0.3" >SU : 1,50 m²</text>
<text x="379.30" y="225.60" font-size="11" text-anchor="middle" fill="#000" stroke="#000" stroke-width="0.3" >SH : 1,50 m²</text>
<rect x="602.52" y="198.07" width="31.76" height="13.50" fill="#fff" />
<rect x="595.77" y="213.77" width="45.26" height="13.50" fill="#fff" />
<rect x="585.53" y="231.32" width="65.74" height="11.00" fill="#fff" />
<rect x="585.53" y="247.02" width="65.74" height="11.00" fill="#fff" />
<text x="618.40" y="208.60" font-size="13.5" font-weight="bold" text-anchor="middle" fill="#000" stroke="#000" stroke-width="0.2" >SDE</text>
<text x="618.40" y="224.30" font-size="13.5" font-weight="bold" text-anchor="middle" fill="#000" stroke="#000" stroke-width="0.2" >Chape</text>
<text x="618.40" y="239.90" font-size="11" text-anchor="middle" fill="#000" stroke="#000" stroke-width="0.3" >SU : 8,16 m²</text>
<text x="618.40" y="255.60" font-size="11" text-anchor="middle" fill="#000" stroke="#000" stroke-width="0.3" >SH : 8,16 m²</text>
<rect x="577.36" y="478.67" width="81.28" height="13.50" fill="#fff" />
<rect x="595.37" y="494.37" width="45.26" height="13.50" fill="#fff" />
<rect x="582.48" y="511.92" width="71.04" height="11.00" fill="#fff" />
<rect x="582.48" y="527.62" width="71.04" height="11.00" fill="#fff" />
<text x="618.00" y="489.20" font-size="13.5" font-weight="bold" text-anchor="middle" fill="#000" stroke="#000" stroke-width="0.2" >Chambre 03</text>
<text x="618.00" y="504.90" font-size="13.5" font-weight="bold" text-anchor="middle" fill="#000" stroke="#000" stroke-width="0.2" >Chape</text>
<text x="618.00" y="520.50" font-size="11" text-anchor="middle" fill="#000" stroke="#000" stroke-width="0.3" >SU : 11,76 m²</text>
<text x="618.00" y="536.20" font-size="11" text-anchor="middle" fill="#000" stroke="#000" stroke-width="0.3" >SH : 11,76 m²</text>
<rect x="255.85" y="725.87" width="71.51" height="13.50" fill="#fff" />
<rect x="268.97" y="741.57" width="45.26" height="13.50" fill="#fff" />
<rect x="258.73" y="759.12" width="65.74" height="11.00" fill="#fff" />
<rect x="258.73" y="774.82" width="65.74" height="11.00" fill="#fff" />
<text x="291.60" y="736.40" font-size="13.5" font-weight="bold" text-anchor="middle" fill="#000" stroke="#000" stroke-width="0.2" >Mezzanine</text>
<text x="291.60" y="752.10" font-size="13.5" font-weight="bold" text-anchor="middle" fill="#000" stroke="#000" stroke-width="0.2" >Chape</text>
<text x="291.60" y="767.70" font-size="11" text-anchor="middle" fill="#000" stroke="#000" stroke-width="0.3" >SU : 9,63 m²</text>
<text x="291.60" y="783.40" font-size="11" text-anchor="middle" fill="#000" stroke="#000" stroke-width="0.3" >SH : 9,63 m²</text>
<rect x="208.85" y="893.07" width="50.51" height="13.50" fill="#fff" />
<rect x="211.47" y="908.77" width="45.26" height="13.50" fill="#fff" />
<rect x="201.23" y="926.32" width="65.74" height="11.00" fill="#fff" />
<rect x="201.23" y="942.02" width="65.74" height="11.00" fill="#fff" />
<text x="234.10" y="903.60" font-size="13.5" font-weight="bold" text-anchor="middle" fill="#000" stroke="#000" stroke-width="0.2" >Bureau</text>
<text x="234.10" y="919.30" font-size="13.5" font-weight="bold" text-anchor="middle" fill="#000" stroke="#000" stroke-width="0.2" >Chape</text>
<text x="234.10" y="934.90" font-size="11" text-anchor="middle" fill="#000" stroke="#000" stroke-width="0.3" >SU : 7,17 m²</text>
<text x="234.10" y="950.60" font-size="11" text-anchor="middle" fill="#000" stroke="#000" stroke-width="0.3" >SH : 7,17 m²</text>
<rect x="479.56" y="836.87" width="81.28" height="13.50" fill="#fff" />
<rect x="497.57" y="852.57" width="45.26" height="13.50" fill="#fff" />
<rect x="484.68" y="870.12" width="71.04" height="11.00" fill="#fff" />
<rect x="484.68" y="885.82" width="71.04" height="11.00" fill="#fff" />
<text x="520.20" y="847.40" font-size="13.5" font-weight="bold" text-anchor="middle" fill="#000" stroke="#000" stroke-width="0.2" >Chambre 04</text>
<text x="520.20" y="863.10" font-size="13.5" font-weight="bold" text-anchor="middle" fill="#000" stroke="#000" stroke-width="0.2" >Chape</text>
<text x="520.20" y="878.70" font-size="11" text-anchor="middle" fill="#000" stroke="#000" stroke-width="0.3" >SU : 11,55 m²</text>
<text x="520.20" y="894.40" font-size="11" text-anchor="middle" fill="#000" stroke="#000" stroke-width="0.3" >SH : 11.55 m²</text>
</svg>
</body></html>
